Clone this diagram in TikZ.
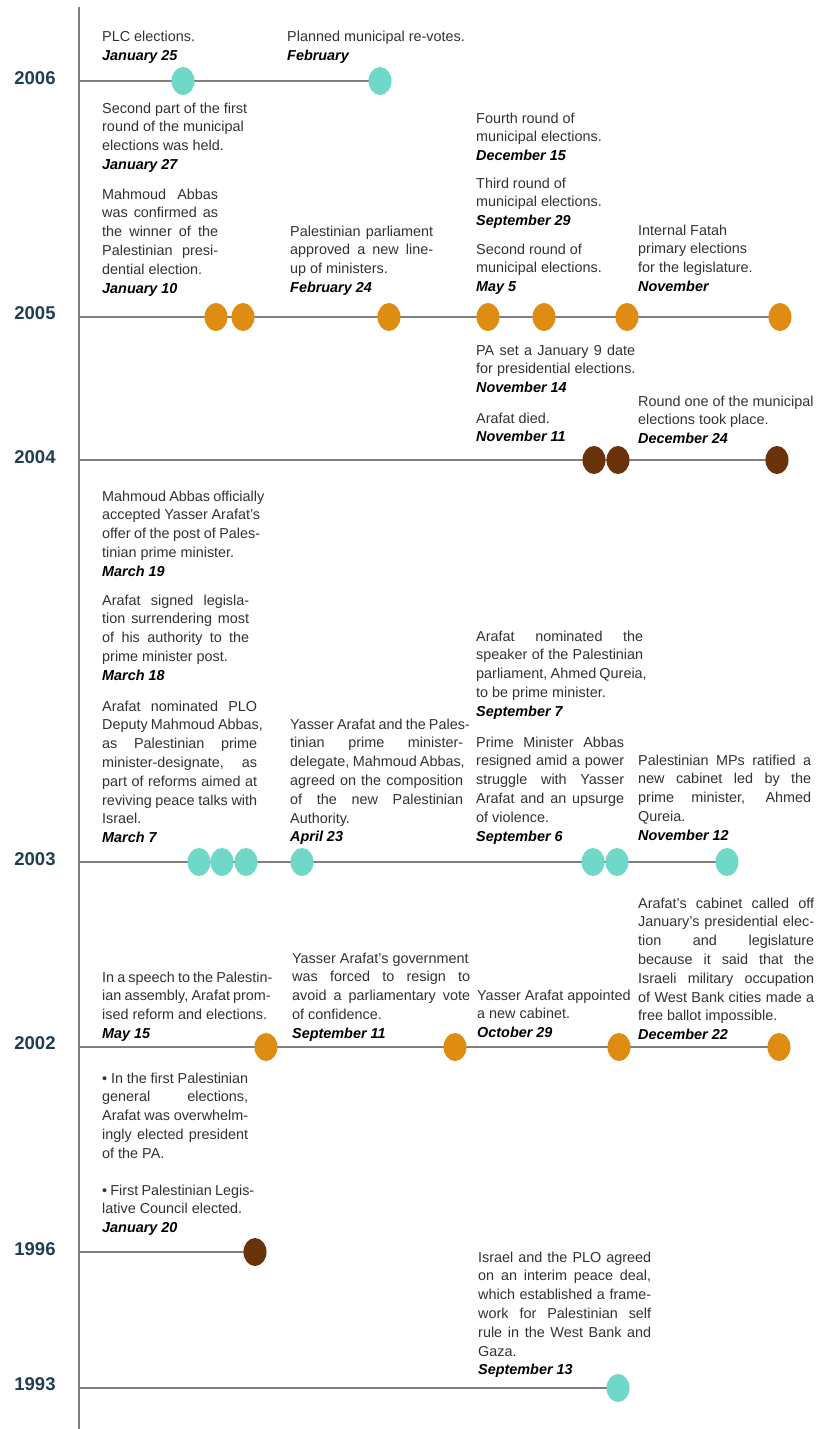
\documentclass[tikz,border=0pt]{standalone}
\usepackage{fontspec}
\setmainfont{Liberation Sans}
\usetikzlibrary{shapes.geometric,backgrounds}
\definecolor{teal1}{RGB}{112,216,200}
\definecolor{orng}{RGB}{222,140,18}
\definecolor{brwn}{RGB}{105,50,10}
\definecolor{yearc}{RGB}{30,62,82}
\definecolor{linec}{RGB}{128,128,128}
\definecolor{bodyc}{RGB}{50,50,50}
\newcommand\blk[2]{\vtop{\hsize=#1\relax #2}}
\newcommand\jl[1]{\hbox to \hsize{\spaceskip=.278em plus 1fil minus .06em\relax #1}}
\newcommand\nl[1]{\hbox{#1}}
\newcommand\dt[1]{\hbox{\color{black}\bfseries\itshape #1}}
\begin{document}
\begin{tikzpicture}[x=1pt,y=-1pt,
  txt/.style={anchor=base west,inner sep=0pt,text=bodyc,font=\fontsize{14.4}{18.8}\selectfont},
  year/.style={inner sep=0pt,text=yearc,font=\fontsize{18.5}{20}\selectfont\bfseries},
  dot/.style={ellipse,minimum width=23pt,minimum height=28pt,inner sep=0pt,draw=none},
  tdot/.style={dot,fill=teal1},
  odot/.style={dot,fill=orng},
  bdot/.style={dot,fill=brwn},
  tl/.style={draw=linec,line width=2pt}]
\useasboundingbox (0,0) rectangle (815,1429);

% axis
\coordinate (axtop) at (79,7);
\coordinate (axbot) at (79,1429);
\coordinate (h06) at (79,81);
\coordinate (h05) at (79,317);
\coordinate (h04) at (79,460);
\coordinate (h03) at (79,862);
\coordinate (h02) at (79,1047);
\coordinate (h96) at (79,1252);
\coordinate (h93) at (79,1388);

% years
\node[year] (y06) at (35,78) {2006};
\node[year] (y05) at (35,313) {2005};
\node[year] (y04) at (35,457) {2004};
\node[year] (y03) at (35,859) {2003};
\node[year] (y02) at (35,1043) {2002};
\node[year] (y96) at (35,1249) {1996};
\node[year] (y93) at (35,1384) {1993};

% dots
\node[tdot] (d06a) at (183,81) {};
\node[tdot] (d06b) at (380,81) {};
\node[odot] (d05a) at (216,317) {};
\node[odot] (d05b) at (243,317) {};
\node[odot] (d05c) at (389,317) {};
\node[odot] (d05d) at (488,317) {};
\node[odot] (d05e) at (544,317) {};
\node[odot] (d05f) at (627,317) {};
\node[odot] (d05g) at (780,317) {};
\node[bdot] (d04a) at (594,460) {};
\node[bdot] (d04b) at (618,460) {};
\node[bdot] (d04c) at (777,460) {};
\node[tdot] (d03a) at (199,862) {};
\node[tdot] (d03b) at (222,862) {};
\node[tdot] (d03c) at (246,862) {};
\node[tdot] (d03d) at (302,862) {};
\node[tdot] (d03e) at (593,862) {};
\node[tdot] (d03f) at (617,862) {};
\node[tdot] (d03g) at (727,862) {};
\node[odot] (d02a) at (266,1047) {};
\node[odot] (d02b) at (455,1047) {};
\node[odot] (d02c) at (619,1047) {};
\node[odot] (d02d) at (779,1047) {};
\node[bdot] (d96a) at (255,1252) {};
\node[tdot] (d93a) at (618,1388) {};

\begin{scope}[on background layer]
\fill[white] (0,0) rectangle (815,1429);
\draw[tl] (axtop) -- (axbot);
\draw[tl] (h06) -- (d06b.center);
\draw[tl] (h05) -- (d05g.center);
\draw[tl] (h04) -- (d04c.center);
\draw[tl] (h03) -- (d03g.center);
\draw[tl] (h02) -- (d02d.center);
\draw[tl] (h96) -- (d96a.center);
\draw[tl] (h93) -- (d93a.center);
\end{scope}

% 2006
\node[txt] (a1) at (102,42) {\blk{150pt}{\nl{PLC elections.}\dt{January 25}}};
\node[txt] (a2) at (287,42) {\blk{190pt}{\nl{Planned municipal re-votes.}\dt{February}}};
\node[txt] (b1) at (102,113) {\blk{160pt}{\nl{Second part of the first}\nl{round of the municipal}\nl{elections was held.}\dt{January 27}}};
\node[txt] (b2) at (102,199) {\blk{116pt}{\jl{Mahmoud Abbas}\jl{was confirmed as}\jl{the winner of the}\jl{Palestinian presi-}\nl{dential election.}\dt{January 10}}};
\node[txt] (b3) at (290,236) {\blk{143pt}{\jl{Palestinian parliament}\jl{approved a new line-}\nl{up of ministers.}\dt{February 24}}};
\node[txt] (b4) at (476,123) {\blk{150pt}{\nl{Fourth round of}\nl{municipal elections.}\dt{December 15}}};
\node[txt] (b5) at (476,188) {\blk{150pt}{\nl{Third round of}\nl{municipal elections.}\dt{September 29}}};
\node[txt] (b6) at (476,254) {\blk{150pt}{\nl{Second round of}\nl{municipal elections.}\dt{May 5}}};
\node[txt] (b7) at (638,235) {\blk{150pt}{\nl{Internal Fatah}\nl{primary elections}\nl{for the legislature.}\dt{November}}};

% 2005 / 2004
\node[txt] (c1) at (476,355) {\blk{159pt}{\jl{PA set a January 9 date}\nl{for presidential elections.}\dt{November 14}}};
\node[txt] (c2) at (476,423) {\blk{150pt}{\nl{Arafat died.}\dt{November 11}}};
\node[txt] (c3) at (638,406) {\blk{176pt}{\nl{Round one of the municipal}\nl{elections took place.}\dt{December 24}}};

% 2003
\node[txt] (d1) at (102,501) {\blk{158pt}{\jl{Mahmoud Abbas officially}\jl{accepted Yasser Arafat's}\jl{offer of the post of Pales-}\nl{tinian prime minister.}\dt{March 19}}};
\node[txt] (d2) at (102,605) {\blk{147pt}{\jl{Arafat signed legisla-}\jl{tion surrendering most}\jl{of his authority to the}\nl{prime minister post.}\dt{March 18}}};
\node[txt] (d3) at (102,711) {\blk{155pt}{\jl{Arafat nominated PLO}\jl{Deputy Mahmoud Abbas,}\jl{as Palestinian prime}\jl{minister-designate, as}\jl{part of reforms aimed at}\jl{reviving peace talks with}\nl{Israel.}\dt{March 7}}};
\node[txt] (d4) at (290,729) {\blk{173pt}{\jl{Yasser Arafat and the Pales-}\jl{tinian prime minister-}\jl{delegate, Mahmoud Abbas,}\jl{agreed on the composition}\jl{of the new Palestinian}\nl{Authority.}\dt{April 23}}};
\node[txt] (d5) at (476,641) {\blk{167pt}{\jl{Arafat nominated the}\jl{speaker of the Palestinian}\jl{parliament, Ahmed Qureia,}\nl{to be prime minister.}\dt{September 7}}};
\node[txt] (d6) at (476,747) {\blk{148pt}{\jl{Prime Minister Abbas}\jl{resigned amid a power}\jl{struggle with Yasser}\jl{Arafat and an upsurge}\nl{of violence.}\dt{September 6}}};
\node[txt] (d7) at (638,765) {\blk{173pt}{\jl{Palestinian MPs ratified a}\jl{new cabinet led by the}\jl{prime minister, Ahmed}\nl{Qureia.}\dt{November 12}}};

% 2002
\node[txt] (f1) at (102,982) {\blk{161pt}{\jl{In a speech to the Palestin-}\jl{ian assembly, Arafat prom-}\nl{ised reform and elections.}\dt{May 15}}};
\node[txt] (f2) at (292,963) {\blk{178pt}{\nl{Yasser Arafat's government}\jl{was forced to resign to}\jl{avoid a parliamentary vote}\nl{of confidence.}\dt{September 11}}};
\node[txt] (f3) at (477,1000) {\blk{160pt}{\nl{Yasser Arafat appointed}\nl{a new cabinet.}\dt{October 29}}};
\node[txt] (f4) at (638,908) {\blk{176pt}{\jl{Arafat's cabinet called off}\jl{January's presidential elec-}\jl{tion and legislature}\jl{because it said that the}\jl{Israeli military occupation}\jl{of West Bank cities made a}\nl{free ballot impossible.}\dt{December 22}}};

% 1996
\node[txt] (g1) at (102,1083) {\blk{146pt}{\jl{• In the first Palestinian}\jl{general elections,}\jl{Arafat was overwhelm-}\jl{ingly elected president}\nl{of the PA.}}};
\node[txt] (g2) at (102,1195) {\blk{146pt}{\jl{• First Palestinian Legis-}\nl{lative Council elected.}\dt{January 20}}};

% 1993
\node[txt] (h1) at (478,1262) {\blk{173pt}{\jl{Israel and the PLO agreed}\jl{on an interim peace deal,}\jl{which established a frame-}\jl{work for Palestinian self}\jl{rule in the West Bank and}\nl{Gaza.}\dt{September 13}}};
\end{tikzpicture}
\end{document}
